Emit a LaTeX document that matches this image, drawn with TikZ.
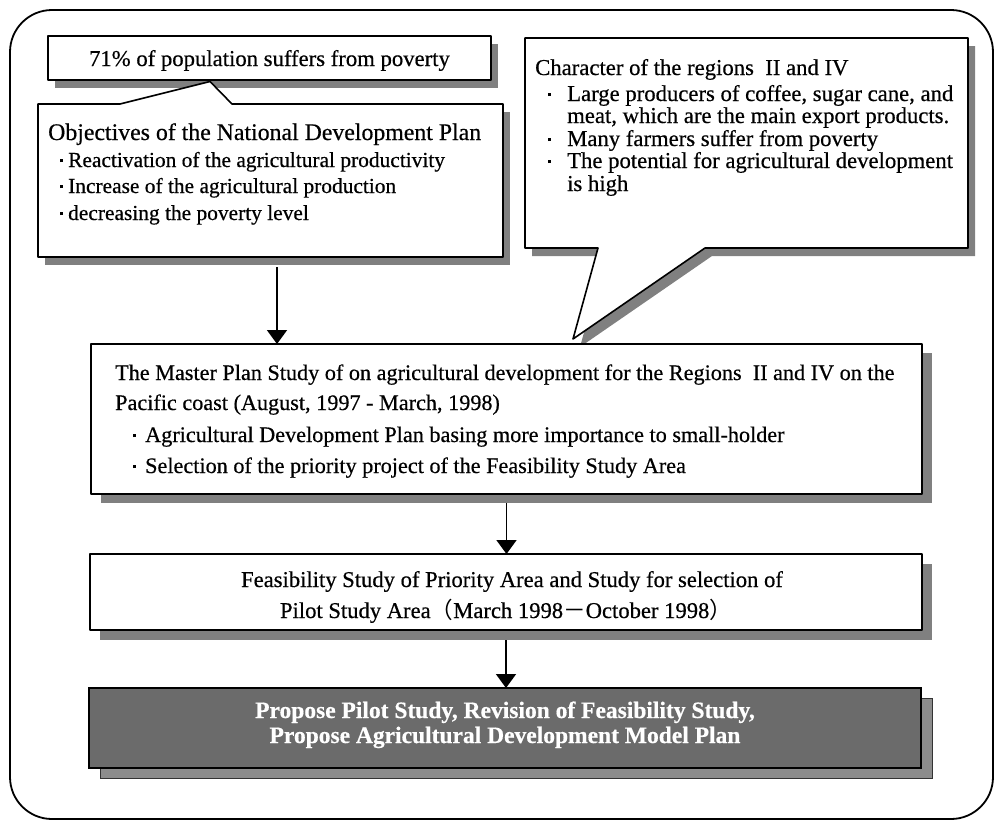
\documentclass[tikz,border=0pt]{standalone}
\usepackage{fontspec}
\setmainfont[FakeBold=0.5]{Liberation Serif}
\newfontfamily\cjk{Noto Sans CJK JP}
\usetikzlibrary{arrows.meta}
\newcommand\bl[1]{\makebox[#1][c]{\raisebox{5pt}{\rule{3.2pt}{3.2pt}}}}
\newcommand\fs[2]{\fontsize{#1}{#2}\selectfont}
\begin{document}
\begin{tikzpicture}[x=1pt,y=-1pt,
  boxline/.style={draw=black,line width=1.6pt},
  whitebox/.style={boxline,fill=white,line join=round},
  shade/.style={fill=black!50},
  txt/.style={inner sep=0pt,anchor=base west},
  ctxt/.style={inner sep=0pt,anchor=base},
  arr/.style={line width=1.8pt,-{Triangle[width=20pt,length=14pt]}},
  area/.style={inner sep=0pt,outer sep=0pt,anchor=north west}]
\useasboundingbox (0,0) rectangle (994,822);
% outer frame
\draw[line width=1.8pt,rounded corners=42pt] (10,10) rectangle (993,819);

% 71% box
\node[area,minimum width=443pt,minimum height=44pt] (pop) at (48,36) {};
\fill[shade] ([shift={(7,8)}]pop.north west) rectangle ([shift={(7,8)}]pop.south east);
\draw[whitebox] (pop.north west) rectangle (pop.south east);
\node[ctxt] (poptext) at (269.5,66) {\fs{22.7}{26}71\% of population suffers from poverty};

% Objectives callout
\node[area,minimum width=465pt,minimum height=153pt] (obj) at (38,104) {};
\fill[shade] ([shift={(7,8)}]obj.north west) rectangle ([shift={(7,8)}]obj.south east);
\draw[whitebox] (obj.north west) -- (120,104) -- (210,81.5) -- (232,104) -- (obj.north east) -- (obj.south east) -- (obj.south west) -- cycle;
\node[txt] (objh) at (48,140) {\fs{23.8}{28}Objectives of the National Development Plan};
\node[txt] (obj1) at (55,167) {\fs{21.4}{26}\bl{13pt}Reactivation of the agricultural productivity};
\node[txt] (obj2) at (55,193) {\fs{21.4}{26}\bl{13pt}Increase of the agricultural production};
\node[txt] (obj3) at (55,220) {\fs{21.4}{26}\bl{13pt}decreasing the poverty level};

% Character callout (shadow first)
\node[area,minimum width=443pt,minimum height=210pt] (chr) at (525,38) {};
\fill[shade,shift={(7,8)}] (525,38) -- (968,38) -- (968,248) -- (705,248) -- (573,339) -- (598,248) -- (525,248) -- cycle;

% Master plan box
\node[area,minimum width=831pt,minimum height=150pt] (mp) at (91,344) {};
\fill[shade] ([shift={(10,9)}]mp.north west) rectangle ([shift={(10,9)}]mp.south east);
\draw[whitebox] (mp.north west) rectangle (mp.south east);

% Character callout shape
\draw[whitebox] (chr.north west) -- (chr.north east) -- (chr.south east) -- (705,248) -- (573,339) -- (598,248) -- (chr.south west) -- cycle;
\node[txt] (chrh) at (535,75) {\fs{22.7}{26}Character of the regions\hspace{0.5em}II and IV};
\node[txt] (chr1) at (532,101) {\fs{22.7}{26}\bl{35pt}Large producers of coffee, sugar cane, and};
\node[txt] (chr1b) at (567,123) {\fs{22.7}{26}meat, which are the main export products.};
\node[txt] (chr2) at (532,146) {\fs{22.7}{26}\bl{35pt}Many farmers suffer from poverty};
\node[txt] (chr3) at (532,168) {\fs{22.7}{26}\bl{35pt}The potential for agricultural development};
\node[txt] (chr3b) at (567,191) {\fs{22.7}{26}is high};

% Master plan text
\node[txt] (mp1) at (115,380) {\fs{22.2}{26}The Master Plan Study of on agricultural development for the Regions\hspace{0.5em}II and IV on the};
\node[txt] (mp2) at (115,410) {\fs{22.2}{26}Pacific coast (August, 1997 - March, 1998)};
\node[txt] (mp3) at (123,442) {\fs{22.2}{26}\bl{22pt}Agricultural Development Plan basing more importance to small-holder};
\node[txt] (mp4) at (123,473) {\fs{22.2}{26}\bl{22pt}Selection of the priority project of the Feasibility Study Area};

% Feasibility box
\node[area,minimum width=832pt,minimum height=76pt] (fsb) at (90,554) {};
\fill[shade] ([shift={(10,10)}]fsb.north west) rectangle ([shift={(10,10)}]fsb.south east);
\draw[whitebox] (fsb.north west) rectangle (fsb.south east);
\node[ctxt] (fs1) at (512,587) {\fs{22.6}{26}Feasibility Study of Priority Area and Study for selection of};
\node[ctxt] (fs2) at (506,618) {\fs{22.6}{26}Pilot Study Area{\cjk （}March 1998{\cjk －}October 1998{\cjk ）}};

% Final box
\node[area,minimum width=832pt,minimum height=80pt] (fin) at (89,688) {};
\fill[black!45,draw=black!80,line width=0.8pt] ([shift={(11,10)}]fin.north west) rectangle ([shift={(11,10)}]fin.south east);
\draw[boxline,fill=black!58] (fin.north west) rectangle (fin.south east);
\node[ctxt,text=white] (fin1) at (505,718) {\fs{23.5}{26}\bfseries Propose Pilot Study, Revision of Feasibility Study,};
\node[ctxt,text=white] (fin2) at (505,743) {\fs{23.5}{26}\bfseries Propose Agricultural Development Model Plan};

% arrows
\draw[arr] ([xshift=6.5pt,yshift=-10pt]obj.south) -- ([xshift=6.5pt]obj.south |- mp.north);
\draw[arr] ([yshift=-9pt]mp.south) -- (mp.south |- fsb.north);
\draw[arr] ([yshift=-10pt]fsb.south) -- (fsb.south |- fin.north);
\end{tikzpicture}
\end{document}
